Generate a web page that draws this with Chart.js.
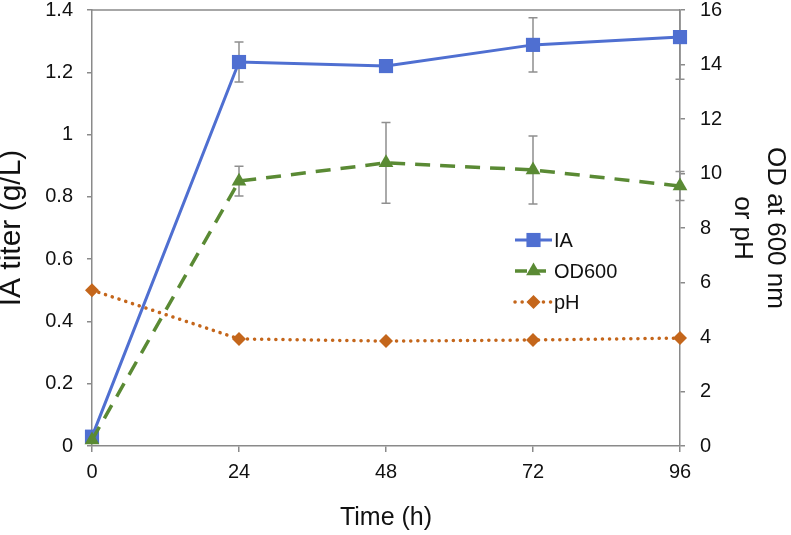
<!DOCTYPE html>
<html>
<head>
<meta charset="utf-8">
<script src="https://cdn.jsdelivr.net/npm/chart.js@4.4.0/dist/chart.umd.min.js"></script>
<style>
html, body { margin: 0; padding: 0; background: #fff; }
#wrap { width: 791px; height: 535px; }
</style>
</head>
<body>
<div id="wrap"><canvas id="chart" width="791" height="535"></canvas></div>
<script>
// values
const hours = [0, 24, 48, 72, 96];
const iaTiter = [0.03, 1.233, 1.22, 1.288, 1.313];
const iaErr = [0, 0.064, 0.015, 0.087, 0.135];
const od600 = [0.22, 9.72, 10.39, 10.13, 9.54];
const odErr = [0, 0.55, 1.48, 1.25, 0.53];
const ph = [5.72, 3.93, 3.85, 3.89, 3.96];

const timeTicks = [0, 24, 48, 72, 96];
const titerTicks = [0, 0.2, 0.4, 0.6, 0.8, 1, 1.2, 1.4];
const odTicks = [0, 2, 4, 6, 8, 10, 12, 14, 16];

const axisGray = "#8a8a8a";
const textColor = "#111";

Chart.defaults.font.family = '"Liberation Sans", Arial, sans-serif';
Chart.defaults.color = textColor;

function points(values) {
    return hours.map((h, i) => ({ x: h, y: values[i] }));
}

function setTicks(list) {
    return (scale) => { scale.ticks = list.map((v) => ({ value: v })); };
}

// fixed axis boxes so the plot area sits where the figure has it
function fixBox(size) {
    return (s) => {
        if (s.isHorizontal()) s.height = size; else s.width = size;
        s.paddingTop = 0;
        s.paddingBottom = 0;
    };
}

function markerPath(ctx, style, r, x, y) {
    ctx.beginPath();
    if (style === "rect") {
        const s = r * Math.SQRT1_2;
        ctx.rect(x - s, y - s, 2 * s, 2 * s);
    } else if (style === "triangle") {
        for (let k = 0; k < 3; k++) {
            const a = -Math.PI / 2 + k * 2 * Math.PI / 3;
            const px = x + Math.cos(a) * r, py = y + Math.sin(a) * r;
            k ? ctx.lineTo(px, py) : ctx.moveTo(px, py);
        }
        ctx.closePath();
    } else {
        ctx.moveTo(x, y - r); ctx.lineTo(x + r, y); ctx.lineTo(x, y + r); ctx.lineTo(x - r, y);
        ctx.closePath();
    }
}

const errorBars = {
    id: "errorBars",
    beforeDatasetsDraw(chart) {
        const { ctx, chartArea } = chart;
        ctx.save();
        ctx.beginPath();
        ctx.rect(0, chartArea.top, chart.width, chartArea.bottom - chartArea.top);
        ctx.clip();
        ctx.strokeStyle = "#8f8f8f";
        ctx.lineWidth = 1.5;
        chart.data.datasets.forEach((ds) => {
            if (!ds.errors) return;
            const ys = chart.scales[ds.yAxisID];
            ds.data.forEach((pt, i) => {
                const e = ds.errors[i];
                if (!e) return;
                const x = chart.scales.x.getPixelForValue(pt.x);
                const y1 = ys.getPixelForValue(pt.y + e);
                const y2 = ys.getPixelForValue(pt.y - e);
                ctx.beginPath();
                ctx.moveTo(x, y1); ctx.lineTo(x, y2);
                ctx.moveTo(x - 4.5, y1); ctx.lineTo(x + 4.5, y1);
                ctx.moveTo(x - 4.5, y2); ctx.lineTo(x + 4.5, y2);
                ctx.stroke();
            });
        });
        ctx.restore();
    }
};

const frameTop = {
    id: "frameTop",
    afterDraw(chart) {
        const { ctx, chartArea } = chart;
        ctx.save();
        ctx.strokeStyle = axisGray;
        ctx.lineWidth = 1.5;
        ctx.beginPath();
        ctx.moveTo(chartArea.left, chartArea.top);
        ctx.lineTo(chartArea.right, chartArea.top);
        ctx.stroke();
        ctx.restore();
    }
};

const lineLegend = {
    id: "lineLegend",
    afterDraw(chart) {
        const { ctx, chartArea } = chart;
        const x0 = chartArea.left + 423;
        let y = chartArea.top + 230;
        ctx.save();
        chart.data.datasets.forEach((ds) => {
            ctx.strokeStyle = ds.borderColor;
            ctx.lineWidth = ds.borderWidth;
            ctx.lineCap = ds.borderCapStyle || "butt";
            ctx.setLineDash(ds.legendDash || []);
            ctx.beginPath();
            ctx.moveTo(x0, y); ctx.lineTo(x0 + 37, y);
            ctx.stroke();
            ctx.setLineDash([]);
            ctx.fillStyle = ds.backgroundColor;
            markerPath(ctx, ds.pointStyle, ds.pointRadius, x0 + 18.5, y);
            ctx.fill();
            ctx.fillStyle = textColor;
            ctx.font = '20px "Liberation Sans", Arial, sans-serif';
            ctx.textBaseline = "middle";
            ctx.fillText(ds.label, x0 + 39, y + 1);
            y += 31;
        });
        ctx.restore();
    }
};

new Chart(document.getElementById("chart").getContext("2d"), {
    type: "line",
    data: {
        datasets: [
            {
                label: "IA", data: points(iaTiter), errors: iaErr, yAxisID: "yL", order: 1,
                borderColor: "#4f6fd1", backgroundColor: "#4f6fd1", borderWidth: 3,
                pointStyle: "rect", pointRadius: 10, pointBorderWidth: 0, clip: false
            },
            {
                label: "OD600", data: points(od600), errors: odErr, yAxisID: "yR", order: 0,
                borderColor: "#5a8a34", backgroundColor: "#5a8a34", borderWidth: 3.5,
                borderDash: [15, 10], legendDash: [12, 6, 13, 6], pointStyle: "triangle", pointRadius: 8.5,
                pointBorderWidth: 0, clip: false
            },
            {
                label: "pH", data: points(ph), yAxisID: "yR", order: 2,
                borderColor: "#c4661b", backgroundColor: "#c4661b", borderWidth: 3.5,
                borderDash: [0.1, 7], legendDash: [0.1, 7], borderCapStyle: "round",
                pointStyle: "rectRot", pointRadius: 7, pointBorderWidth: 0, clip: false
            }
        ]
    },
    options: {
        responsive: false,
        animation: false,
        layout: { padding: { top: 10, left: 0, right: 0, bottom: 0 } },
        plugins: { legend: { display: false }, tooltip: { enabled: false } },
        elements: { line: { tension: 0 } },
        scales: {
            x: {
                type: "linear", min: timeTicks[0], max: timeTicks[timeTicks.length - 1],
                afterBuildTicks: setTicks(timeTicks),
                afterFit: fixBox(89),
                grid: { drawOnChartArea: false, tickLength: 6, color: axisGray, lineWidth: 1.5 },
                border: { color: axisGray, width: 1.5 },
                ticks: { font: { size: 20 }, padding: 8, color: textColor, maxRotation: 0 },
                title: { display: true, text: "Time (h)", font: { size: 25 }, padding: { top: 0, bottom: 2 }, color: textColor }
            },
            yL: {
                position: "left", min: titerTicks[0], max: titerTicks[titerTicks.length - 1],
                afterBuildTicks: setTicks(titerTicks),
                afterFit: fixBox(92),
                grid: { drawOnChartArea: false, tickLength: 5, color: axisGray, lineWidth: 1.5 },
                border: { color: axisGray, width: 1.5 },
                ticks: { font: { size: 20, lineHeight: 1 }, padding: 14, color: textColor, callback: (v) => String(+v.toFixed(1)) },
                title: { display: true, text: "IA titer (g/L)", font: { size: 30, lineHeight: 0.8 }, padding: 0, color: textColor }
            },
            yR: {
                position: "right", min: odTicks[0], max: odTicks[odTicks.length - 1],
                afterBuildTicks: setTicks(odTicks),
                afterFit: fixBox(111),
                grid: { drawOnChartArea: false, tickLength: 5, color: axisGray, lineWidth: 1.5 },
                border: { color: axisGray, width: 1.5 },
                ticks: { font: { size: 20, lineHeight: 1 }, padding: 15, color: textColor },
                title: { display: true, text: ["OD at 600 nm", "or pH"], font: { size: 26, lineHeight: 1.25 }, padding: 0, color: textColor }
            }
        }
    },
    plugins: [errorBars, frameTop, lineLegend]
});
</script>
</body>
</html>
